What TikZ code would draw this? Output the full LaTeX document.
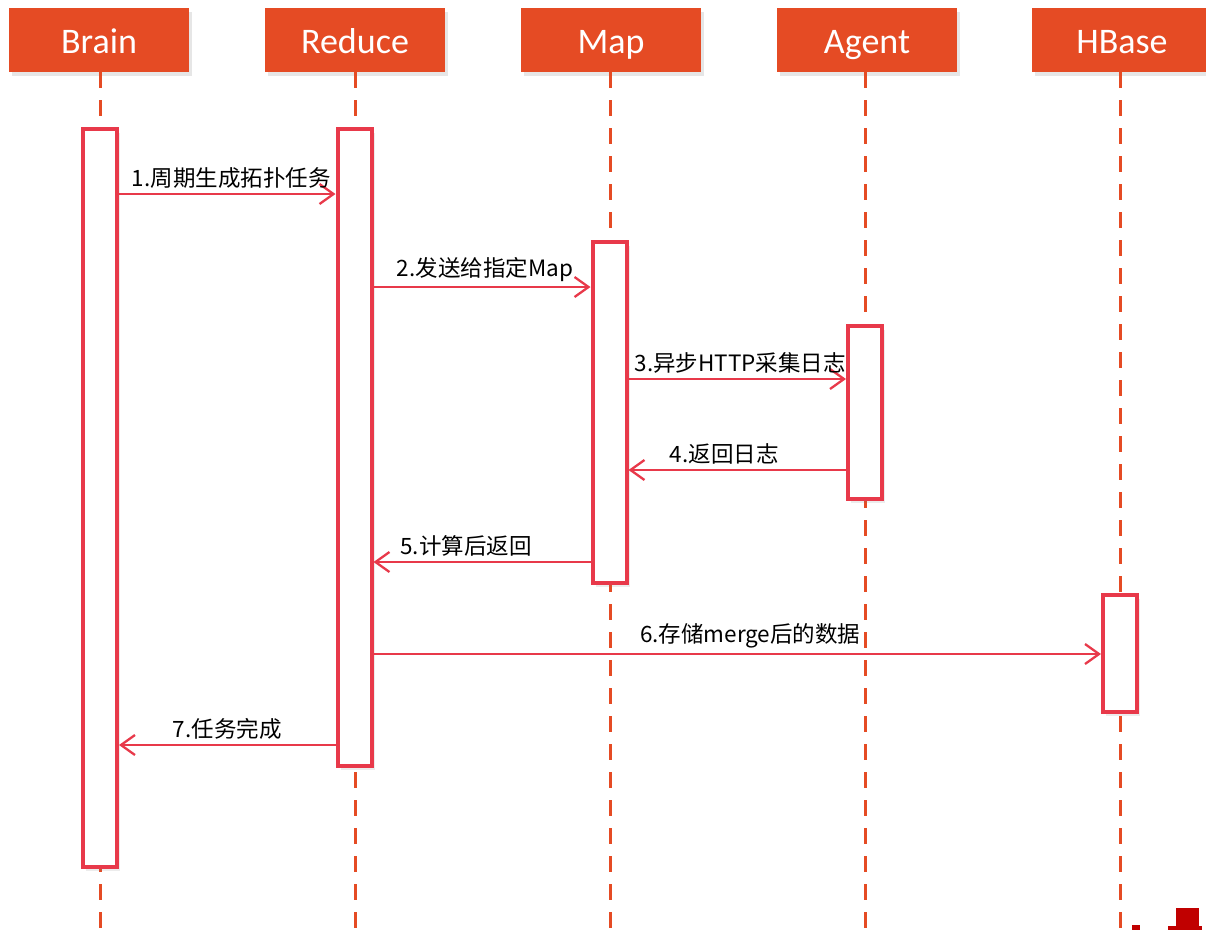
\documentclass[tikz,border=0pt]{standalone}
\usepackage{fontspec}
\setmainfont{Carlito}
\newfontfamily\cjk{Noto Sans CJK SC}
\usepackage{xcolor}
\usetikzlibrary{arrows.meta,shadows}
\definecolor{headorange}{RGB}{229,75,36}
\definecolor{barred}{RGB}{232,57,74}
\definecolor{markred}{RGB}{192,0,0}

\begin{document}
\begin{tikzpicture}[x=1pt,y=-1pt]
\tikzset{head/.style={fill=headorange,text=white,minimum width=180pt,minimum height=64pt,inner sep=0pt,text height=30pt,text depth=4pt,font=\fontsize{36}{40}\selectfont,drop shadow={shadow xshift=3pt,shadow yshift=-4pt,opacity=0.2}}}
\tikzset{life/.style={draw=headorange,line width=3pt,dash pattern=on 16pt off 12pt}}
\tikzset{bar/.style={draw=barred,line width=4pt,fill=white,minimum width=34pt,inner sep=0pt,drop shadow={shadow xshift=3pt,shadow yshift=-4pt,opacity=0.15}}}
\tikzset{msg/.style={draw=barred,line width=2.3pt,-{Straight Barb[length=14pt,width=20pt,line width=2.3pt]}}}
\tikzset{txt/.style={font=\cjk\fontsize{22.5}{26}\selectfont,above=1pt,text=black}}

\useasboundingbox (0,0) rectangle (1206,930);

\node[head] (brain) at (99,40) {Brain};
\node[head] (reduce) at (355,40) {Reduce};
\node[head] (map) at (611,40) {Map};
\node[head] (agent) at (867,40) {Agent};
\node[head] (hbase) at (1122,40) {HBase};

\coordinate (brainend) at (100,930);
\coordinate (reduceend) at (355,930);
\coordinate (mapend) at (610,930);
\coordinate (agentend) at (865,930);
\coordinate (hbaseend) at (1120,930);

\draw[life] (brain.south -| brainend) -- (brainend);
\draw[life] (reduce.south -| reduceend) -- (reduceend);
\draw[life] (map.south -| mapend) -- (mapend);
\draw[life] (agent.south -| agentend) -- (agentend);
\draw[life] (hbase.south -| hbaseend) -- (hbaseend);

\node[bar,minimum height=738pt] (brainbar) at (100,498) {};
\node[bar,minimum height=637pt] (reducebar) at (354.5,447.5) {};
\node[bar,minimum height=341pt] (mapbar) at (609.5,412.5) {};
\node[bar,minimum height=173pt] (agentbar) at (865,412.5) {};
\node[bar,minimum height=117pt] (hbasebar) at (1120,653.5) {};

\draw[msg] (brainbar.east |- 0,194) -- node[txt,xshift=4pt] (m1) {1.周期生成拓扑任务} (reducebar.west |- 0,194);
\draw[msg] (reducebar.east |- 0,287) -- node[txt,xshift=3pt] (m2) {2.发送给指定Map} (mapbar.west |- 0,287);
\draw[msg] (mapbar.east |- 0,379) -- node[txt,xshift=3pt] (m3) {3.异步HTTP采集日志} (agentbar.west |- 0,379);
\draw[msg] (agentbar.west |- 0,470) -- node[txt,xshift=-13pt] (m4) {4.返回日志} (mapbar.east |- 0,470);
\draw[msg] (mapbar.west |- 0,562) -- node[txt,xshift=-16pt] (m5) {5.计算后返回} (reducebar.east |- 0,562);
\draw[msg] (reducebar.east |- 0,654) -- node[txt,xshift=13pt] (m6) {6.存储merge后的数据} (hbasebar.west |- 0,654);
\draw[msg] (reducebar.west |- 0,745) -- node[txt] (m7) {7.任务完成} (brainbar.east |- 0,745);

\fill[markred] (1132,925) rectangle (1140,930);
\fill[markred] (1176,908) rectangle (1199,930);
\fill[markred] (1168,926) rectangle (1202,930);

\end{tikzpicture}
\end{document}
